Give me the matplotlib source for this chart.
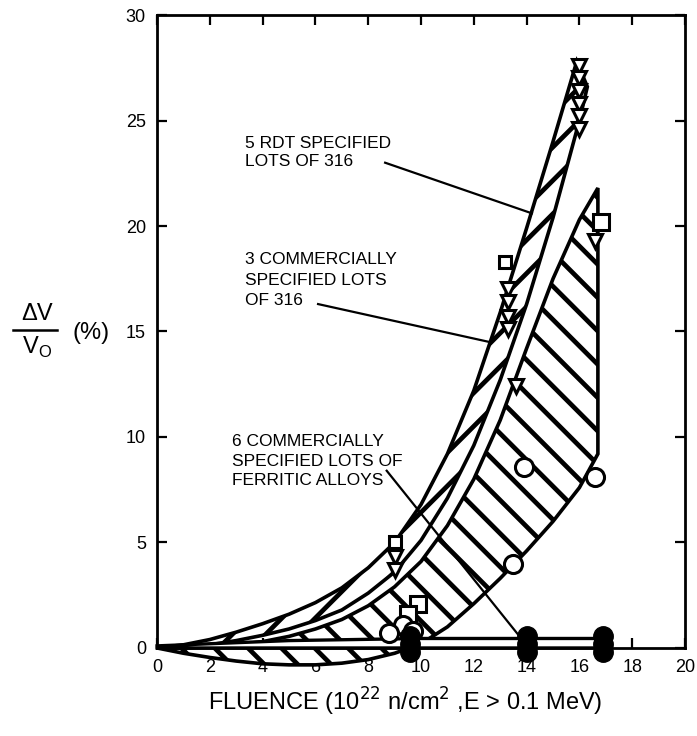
import matplotlib
matplotlib.use('Agg')
import matplotlib.pyplot as plt
from matplotlib.lines import Line2D

plt.rcParams['font.family'] = ['Liberation Sans', 'DejaVu Sans']
plt.rcParams['hatch.linewidth'] = 3.4

# 5 RDT specified lots of 316 (narrow // band)
rdt_x_top = [0, 1, 2, 3, 4, 5, 6, 7, 8, 9, 10, 11, 12, 13, 14, 15, 15.9]
rdt_y_top = [0, 0.15, 0.4, 0.75, 1.15, 1.6, 2.15, 2.85, 3.8, 5.0, 6.8, 9.2, 12.2, 15.9, 19.9, 24.0, 27.8]
rdt_x_bot = [0, 1, 2, 3, 4, 5, 6, 7, 8, 9, 10, 11, 12, 13, 14, 15, 16, 16.3]
rdt_y_bot = [0, 0.05, 0.15, 0.35, 0.6, 0.9, 1.3, 1.8, 2.6, 3.6, 5.1, 7.1, 9.6, 12.7, 16.3, 20.4, 25.0, 26.6]

# 3 commercially specified lots of 316 (wide \\ band)
com_x_top = [0, 1, 2, 3, 4, 5, 6, 7, 8, 9, 10, 11, 12, 13, 14, 15, 16, 16.7]
com_y_top = [0, 0.0, 0.05, 0.15, 0.3, 0.55, 0.9, 1.35, 2.0, 2.9, 4.1, 5.8, 8.0, 10.8, 14.2, 17.5, 20.3, 21.8]
com_x_bot = [16.7, 16.7, 16, 15, 14, 13, 12, 11, 10, 9, 8, 7, 6, 5, 4, 3, 2, 1, 0]
com_y_bot = [21.8, 9.2, 7.6, 6.0, 4.6, 3.3, 2.1, 1.0, 0.2, -0.25, -0.55, -0.72, -0.8, -0.8, -0.75, -0.62, -0.45, -0.25, 0]

# 6 commercially specified lots of ferritic alloys
fer_x = [0, 5, 10, 17]
fer_lo = [0, 0, 0, 0]
fer_hi = [0.1, 0.35, 0.45, 0.45]

# data points
rdt_tri_x = [16.0, 16.0, 16.0, 16.0, 16.0, 16.0, 13.3, 13.3, 13.3, 13.3, 9.0, 9.0]
rdt_tri_y = [27.6, 27.0, 26.4, 25.8, 25.2, 24.6, 17.0, 16.4, 15.7, 15.1, 4.3, 3.7]
rdt_sq_x = [9.0, 13.2]
rdt_sq_y = [5.0, 18.3]
com_sq_x = [16.8, 9.9, 9.5]
com_sq_y = [20.2, 2.1, 1.6]
com_tri_x = [16.6, 13.6]
com_tri_y = [19.3, 12.4]
com_circ_x = [13.9, 16.6, 13.5, 9.3, 8.8, 9.7]
com_circ_y = [8.6, 8.1, 4.0, 1.1, 0.7, 0.8]
fer_pt_x = [9.6, 9.6, 9.6, 14.0, 14.0, 14.0, 16.9, 16.9, 16.9]
fer_pt_y = [-0.2, 0.2, 0.55, -0.2, 0.2, 0.55, -0.2, 0.2, 0.55]

fig = plt.figure(figsize=(6.97, 7.36), dpi=100)
ax = fig.add_axes([0.2253, 0.1196, 0.7575, 0.86])

# wide band
poly_x = com_x_top + com_x_bot
poly_y = com_y_top + com_y_bot
ax.fill(poly_x, poly_y, facecolor='white', edgecolor='black', hatch='\\',
        linewidth=2.6, clip_on=False, zorder=2)

# narrow band
poly_x = rdt_x_top + rdt_x_bot[::-1]
poly_y = rdt_y_top + rdt_y_bot[::-1]
ax.fill(poly_x, poly_y, facecolor='white', edgecolor='black', hatch='/',
        linewidth=2.6, clip_on=False, zorder=3)

# ferritic band
ax.fill(fer_x + fer_x[::-1], fer_hi + fer_lo[::-1], facecolor='white',
        edgecolor='black', linewidth=2.4, clip_on=False, zorder=4)

mk = dict(linestyle='none', markerfacecolor='white', markeredgecolor='black',
          markeredgewidth=2.2, clip_on=False, zorder=5)
ax.plot(rdt_tri_x, rdt_tri_y, marker='v', markersize=10, **mk)
ax.plot(rdt_sq_x, rdt_sq_y, marker='s', markersize=9, **mk)
ax.plot(com_sq_x, com_sq_y, marker='s', markersize=11, **mk)
ax.plot(com_tri_x, com_tri_y, marker='v', markersize=10, **mk)
ax.plot(com_circ_x, com_circ_y, marker='o', markersize=13, **mk)
ax.plot(fer_pt_x, fer_pt_y, linestyle='none', marker='o', markersize=14,
        color='black', clip_on=False, zorder=6)

ax.set_xlim(0, 20)
ax.set_ylim(0, 30)
ax.set_xticks(range(0, 21, 2))
ax.set_yticks(range(0, 31, 5))
ax.tick_params(direction='in', length=7, width=1.6, top=True, right=True,
               labelsize=13, pad=8)
for s in ax.spines.values():
    s.set_linewidth(2)
    s.set_zorder(7)

ax.set_xlabel(r'FLUENCE (10$^{22}$ n/cm$^{2}$ ,E > 0.1 MeV)', fontsize=17,
              labelpad=7, x=0.47)

# y label as a stacked fraction
fig.text(0.053, 0.558, '\u0394V', fontsize=17, ha='center', va='bottom')
fig.add_artist(Line2D([0.019, 0.082], [0.5516, 0.5516], color='black', lw=1.8))
fig.text(0.053, 0.545, 'V$_\\mathregular{O}$', fontsize=17, ha='center', va='top')
fig.text(0.1306, 0.5476, '(%)', fontsize=17, ha='center', va='center')

# labels with leader lines
ax.text(3.33, 23.5, '5 RDT SPECIFIED\nLOTS OF 316', fontsize=12.5,
        ha='left', va='center', linespacing=1.25)
ax.plot([8.64, 14.2], [23.0, 20.6], color='black', lw=1.6, zorder=4)
ax.text(3.33, 17.44, '3 COMMERCIALLY\nSPECIFIED LOTS\nOF 316', fontsize=12.5,
        ha='left', va='center', linespacing=1.45)
ax.plot([6.1, 12.6], [16.3, 14.5], color='black', lw=1.6, zorder=4)
ax.text(2.84, 8.86, '6 COMMERCIALLY\nSPECIFIED LOTS OF\nFERRITIC ALLOYS', fontsize=12.5,
        ha='left', va='center', linespacing=1.39)
ax.plot([8.7, 13.7], [8.4, 0.6], color='black', lw=1.6, zorder=4)

fig.savefig('out.png', dpi=100)
